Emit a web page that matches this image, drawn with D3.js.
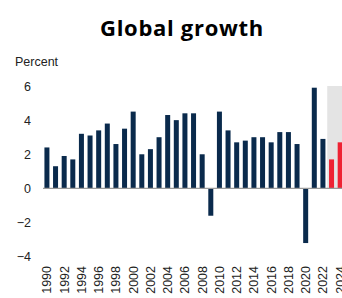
<!DOCTYPE html>
<html>
<head>
<meta charset="utf-8">
<script src="https://cdn.jsdelivr.net/npm/d3@7"></script>
<style>
  body { margin: 0; background: #fff; }
  svg { display: block; }
</style>
</head>
<body>
<div id="chart"></div>
<script>
var years = d3.range(1990, 2025);
var growth = [2.4, 1.3, 1.9, 1.7, 3.2, 3.1, 3.4, 3.8, 2.6, 3.5,
              4.5, 2.0, 2.3, 3.0, 4.3, 4.0, 4.4, 4.4, 2.0, -1.6,
              4.5, 3.4, 2.7, 2.8, 3.0, 3.0, 2.7, 3.3, 3.3, 2.6,
              -3.2, 5.9, 2.9, 1.7, 2.7];
var forecastYears = [2023, 2024];
var yTicks = [-4, -2, 0, 2, 4, 6];

var width = 342, height = 298;

var svg = d3.select('#chart').append('svg')
    .attr('width', width)
    .attr('height', height);

var x = d3.scaleBand()
    .domain(years)
    .range([42.7, 42.7 + 35 * 8.62])
    .paddingInner(0.42)
    .paddingOuter(0.2);

var y = d3.scaleLinear()
    .domain([-4, 6])
    .range([256.7, 86]);

// forecast shading
var step = x.step();
var fx = x(forecastYears[0]) - (step - x.bandwidth()) / 2;
svg.append('rect')
    .attr('x', fx)
    .attr('y', y(6))
    .attr('width', width - fx)
    .attr('height', y(0) - y(6))
    .attr('fill', '#e4e4e4');

// title
svg.append('text')
    .attr('x', 182)
    .attr('y', 36)
    .attr('text-anchor', 'middle')
    .style('font-family', 'Open Sans, sans-serif')
    .style('font-weight', '700')
    .style('font-size', '22px')
    .style('letter-spacing', '0.7px')
    .style('fill', '#000')
    .text('Global growth');

svg.append('text')
    .attr('x', 15)
    .attr('y', 66)
    .style('font-family', 'Liberation Sans, Arial, sans-serif')
    .style('font-size', '12.5px')
    .style('fill', '#222')
    .text('Percent');

// y axis (labels only)
var yAxis = svg.append('g')
    .attr('transform', 'translate(31,0)')
    .call(d3.axisLeft(y).tickValues(yTicks).tickSize(0).tickPadding(0)
        .tickFormat(d3.format('d')));
yAxis.select('.domain').remove();
yAxis.selectAll('text')
    .style('font-family', 'Liberation Sans, Arial, sans-serif')
    .style('font-size', '12.5px')
    .style('fill', '#222');

// bars
svg.selectAll('.bar')
    .data(years)
    .enter().append('rect')
    .attr('class', 'bar')
    .attr('x', function (d) { return x(d); })
    .attr('width', x.bandwidth())
    .attr('y', function (d, i) { return y(Math.max(0, growth[i])); })
    .attr('height', function (d, i) { return Math.abs(y(growth[i]) - y(0)); })
    .attr('fill', function (d) {
        return forecastYears.indexOf(d) >= 0 ? '#ee2233' : '#0a2a4c';
    });

// zero line
svg.append('line')
    .attr('x1', 43)
    .attr('x2', width)
    .attr('y1', y(0))
    .attr('y2', y(0))
    .attr('stroke', '#9a9a9a')
    .attr('stroke-width', 1.2);

// x axis labels, every second year
var xAxis = svg.append('g')
    .attr('transform', 'translate(0,' + 265 + ')')
    .call(d3.axisBottom(x).tickValues(years.filter(function (d) { return d % 2 === 0; }))
        .tickSize(0).tickPadding(0));
xAxis.select('.domain').remove();
xAxis.selectAll('text')
    .attr('transform', 'rotate(-90)')
    .attr('text-anchor', 'end')
    .attr('x', -1)
    .attr('y', 0)
    .attr('dy', '0.35em')
    .style('font-family', 'Liberation Sans, Arial, sans-serif')
    .style('font-size', '12.5px')
    .style('fill', '#222');
</script>
</body>
</html>
